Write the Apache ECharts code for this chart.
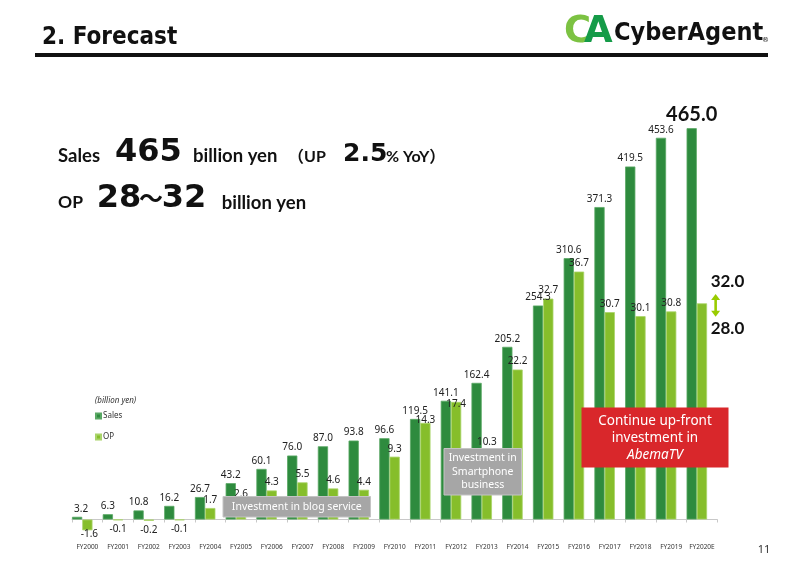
<!DOCTYPE html>
<html>
<head>
<meta charset="utf-8">
<script src="https://cdn.jsdelivr.net/npm/echarts@6/dist/echarts.min.js"></script>
<style>
html,body{margin:0;padding:0;background:#fff;}
#chart{width:800px;height:565px;}
</style>
</head>
<body>
<div id="chart"></div>
<script>
// ---- data ----
const categories = ['FY2000','FY2001','FY2002','FY2003','FY2004','FY2005','FY2006','FY2007','FY2008','FY2009','FY2010','FY2011','FY2012','FY2013','FY2014','FY2015','FY2016','FY2017','FY2018','FY2019','FY2020E'];
const sales = [3.2,6.3,10.8,16.2,26.7,43.2,60.1,76.0,87.0,93.8,96.6,119.5,141.1,162.4,205.2,254.3,310.6,371.3,419.5,453.6,465.0];
const op = [-1.6,-0.1,-0.2,-0.1,1.7,2.6,4.3,5.5,4.6,4.4,9.3,14.3,17.4,10.3,22.2,32.7,36.7,30.7,30.1,30.8,32.0];
const opForecastRange = [28.0, 32.0];
const seriesNames = ['Sales','OP'];

// ---- styles ----
const SALES_COLOR = '#2e8b3e';
const OP_COLOR = '#86be2b';
const LABEL_FONT = 'Noto Sans';
const opLabelOffsets = {0:[2,-5], 11:[0,5], 12:[0,10]};

const last = categories.length - 1;

const salesData = sales.map((v, i) => {
  if (i === last) {
    return {value: v, label: {fontSize: 20, fontWeight: 'bold', fontFamily: 'Lato', color: '#111', distance: 4}};
  }
  if (i === 0) return {value: v, label: {offset: [4, 0]}};
  return v;
});

const opData = op.map((v, i) => {
  const item = {value: v, label: {}};
  if (v < 0) { item.label.position = 'bottom'; item.label.distance = 4; }
  if (opLabelOffsets[i]) item.label.offset = opLabelOffsets[i];
  if (i === last) item.label.show = false;
  return item;
});

const padData = categories.map(() => 0);

const chart = echarts.init(document.getElementById('chart'), null, {renderer: 'canvas'});

function txt(text, x, y, opts) {
  return Object.assign({
    type: 'text', z: 100, silent: true,
    style: Object.assign({text: text, x: x, y: y, fill: '#111', align: 'left', verticalAlign: 'middle'}, opts || {})
  });
}

function box(x, y, w, h, color, lines, textOpts, border) {
  return {
    type: 'group', z: 100, silent: true,
    children: [
      {type: 'rect', z: 100, shape: {x: x, y: y, width: w, height: h},
       style: {fill: color, stroke: border || null, lineWidth: border ? 1 : 0}},
      {type: 'text', z: 101, style: Object.assign({
        text: lines, x: x + w / 2, y: y + h / 2, fill: '#fff', align: 'center', verticalAlign: 'middle'
      }, textOpts)}
    ]
  };
}

const option = {
  backgroundColor: '#fff',
  animation: false,
  grid: {left: 72, right: 82.7, top: 100, bottom: 25, containLabel: false, outerBoundsMode: 'none'},
  legend: {
    data: seriesNames,
    orient: 'vertical',
    left: 95, top: 410.5,
    itemWidth: 5, itemHeight: 5, itemGap: 10,
    icon: 'rect',
    padding: 0,
    selectedMode: false,
    textStyle: {fontSize: 8, fontFamily: LABEL_FONT, color: '#333', lineHeight: 11, padding: [0,0,0,-3]}
  },
  xAxis: {
    type: 'category',
    data: categories,
    boundaryGap: true,
    axisLine: {show: true, onZero: true, lineStyle: {color: '#c8c8c8', width: 1}},
    axisTick: {show: true, interval: 0, length: 3, lineStyle: {color: '#c8c8c8'}},
    axisLabel: {interval: 0, margin: 3.5, fontSize: 6.5, fontFamily: LABEL_FONT, color: '#333'},
    splitLine: {show: false}
  },
  yAxis: [
    {type: 'value', min: -24.36, max: 498.5, show: false, splitLine: {show: false}},
    {type: 'value', min: -3.035, max: 62.1, show: false, splitLine: {show: false}}
  ],
  series: [
    {
      name: 'Sales', type: 'bar', yAxisIndex: 0,
      data: salesData,
      barGap: '0%', barCategoryGap: '0%',
      itemStyle: {color: SALES_COLOR, borderColor: '#5aa865', borderWidth: 0.8},
      label: {show: true, position: 'top', distance: 3, fontSize: 10, fontFamily: LABEL_FONT, color: '#222',
              formatter: p => Number(p.value).toFixed(1)},
      z: 2
    },
    {
      name: 'OP', type: 'bar', yAxisIndex: 1,
      data: opData,
      barGap: '0%', barCategoryGap: '0%',
      itemStyle: {color: OP_COLOR, borderColor: '#a9d46a', borderWidth: 0.8},
      label: {show: true, position: 'top', distance: 3, fontSize: 10, fontFamily: LABEL_FONT, color: '#222',
              formatter: p => Number(p.value).toFixed(1)},
      z: 2
    },
    {
      name: 'pad', type: 'bar', yAxisIndex: 0,
      data: padData,
      barGap: '0%', barCategoryGap: '0%',
      itemStyle: {color: 'rgba(0,0,0,0)'},
      label: {show: false}, silent: true, tooltip: {show: false}
    }
  ],
  graphic: []
};

chart.setOption(option);

// OP forecast range annotation, placed through the chart's own scales
const pxTop = chart.convertToPixel({xAxisIndex: 0, yAxisIndex: 1}, [last, opForecastRange[1]]);
const pxLow = chart.convertToPixel({xAxisIndex: 0, yAxisIndex: 1}, [last, opForecastRange[0]]);
const ax = pxTop[0] + 13.7;   // arrow x
const tx = pxTop[0] + 25.5;   // label centre x

const arrowTop = pxTop[1] - 9.3;
const arrowBot = pxLow[1] - 13.7;
const ARROW = '#99cc00';

const graphics = [
  // title
  txt('2. Forecast', 42, 37.5, {font: 'bold 24px "DejaVu Sans Condensed"', fill: '#111'}),
  {type: 'rect', z: 100, silent: true, shape: {x: 35, y: 53, width: 733, height: 4}, style: {fill: '#111'}},
  // logo
  txt('C', 564, 32, {font: 'bold 37px "DejaVu Sans"', fill: '#7cc242'}),
  txt('A', 584, 32, {font: 'bold 37px "DejaVu Sans"', fill: '#159b48'}),
  txt('CyberAgent', 614, 33.5, {font: 'bold 25px "DejaVu Sans Condensed"', fill: '#111'}),
  txt('®', 762, 40, {font: '7px "DejaVu Sans"', fill: '#111'}),
  // headline line 1
  txt('Sales', 58, 155.8, {font: 'bold 18.5px Lato'}),
  txt('465', 115, 152.2, {font: 'bold 32px "DejaVu Sans"'}),
  txt('billion yen', 193, 155.8, {font: 'bold 18.5px Lato'}),
  txt('（UP', 288, 156.6, {font: 'bold 16px Lato, "Noto Sans CJK JP"'}),
  txt('2.5', 343, 154.3, {font: 'bold 25px "DejaVu Sans"'}),
  txt('% YoY）', 386, 156.6, {font: 'bold 16px Lato, "Noto Sans CJK JP"'}),
  // headline line 2
  txt('OP', 58, 202.7, {font: 'bold 17.5px Lato'}),
  txt('28', 96.7, 198.8, {font: 'bold 32px "DejaVu Sans"'}),
  txt('～', 151, 198.3, {font: 'bold 24px "Noto Sans CJK JP"', align: 'center'}),
  txt('32', 161.7, 198.8, {font: 'bold 32px "DejaVu Sans"'}),
  txt('billion yen', 221.7, 202.7, {font: 'bold 18.5px Lato'}),
  // legend unit
  txt('(billion yen)', 95, 401, {font: 'italic 8px "Noto Sans"', fill: '#333'}),
  // forecast range texts and arrow
  txt(opForecastRange[1].toFixed(1), tx, pxTop[1] - 21.6, {font: 'bold 17px Lato', align: 'center'}),
  txt(opForecastRange[0].toFixed(1), tx, pxLow[1] - 2, {font: 'bold 17px Lato', align: 'center'}),
  {type: 'rect', z: 100, silent: true, shape: {x: ax - 1.3, y: arrowTop + 5, width: 2.6, height: arrowBot - arrowTop - 10}, style: {fill: ARROW}},
  {type: 'polygon', z: 100, silent: true, shape: {points: [[ax, arrowTop], [ax - 4.5, arrowTop + 6], [ax + 4.5, arrowTop + 6]]}, style: {fill: ARROW}},
  {type: 'polygon', z: 100, silent: true, shape: {points: [[ax, arrowBot], [ax - 4.5, arrowBot - 6], [ax + 4.5, arrowBot - 6]]}, style: {fill: ARROW}},
  // annotation boxes
  box(223, 496.5, 147.5, 20.5, '#a6a6a6', 'Investment in blog service',
      {font: '10.5px "Noto Sans"'}, '#c4c4c4'),
  box(444, 448.5, 77.5, 46.5, '#a6a6a6', 'Investment in\nSmartphone\nbusiness',
      {font: '10.5px "Noto Sans"', lineHeight: 13.5}, '#c4c4c4'),
  {
    type: 'group', z: 100, silent: true,
    children: [
      {type: 'rect', z: 100, shape: {x: 581.5, y: 407.5, width: 147, height: 60}, style: {fill: '#d9272b'}},
      {type: 'text', z: 101, style: {text: 'Continue up-front', x: 655, y: 421, fill: '#fff', align: 'center', verticalAlign: 'middle', font: '13.5px "Noto Sans"'}},
      {type: 'text', z: 101, style: {text: 'investment in', x: 655, y: 438.3, fill: '#fff', align: 'center', verticalAlign: 'middle', font: '13.5px "Noto Sans"'}},
      {type: 'text', z: 101, style: {text: 'AbemaTV', x: 655, y: 455.3, fill: '#fff', align: 'center', verticalAlign: 'middle', font: 'italic 13.5px "Noto Sans"'}}
    ]
  },
  // page number
  txt('11', 764, 550, {font: '11px "Noto Sans"', fill: '#333', align: 'center'})
];

chart.setOption({graphic: graphics});
</script>
</body>
</html>
